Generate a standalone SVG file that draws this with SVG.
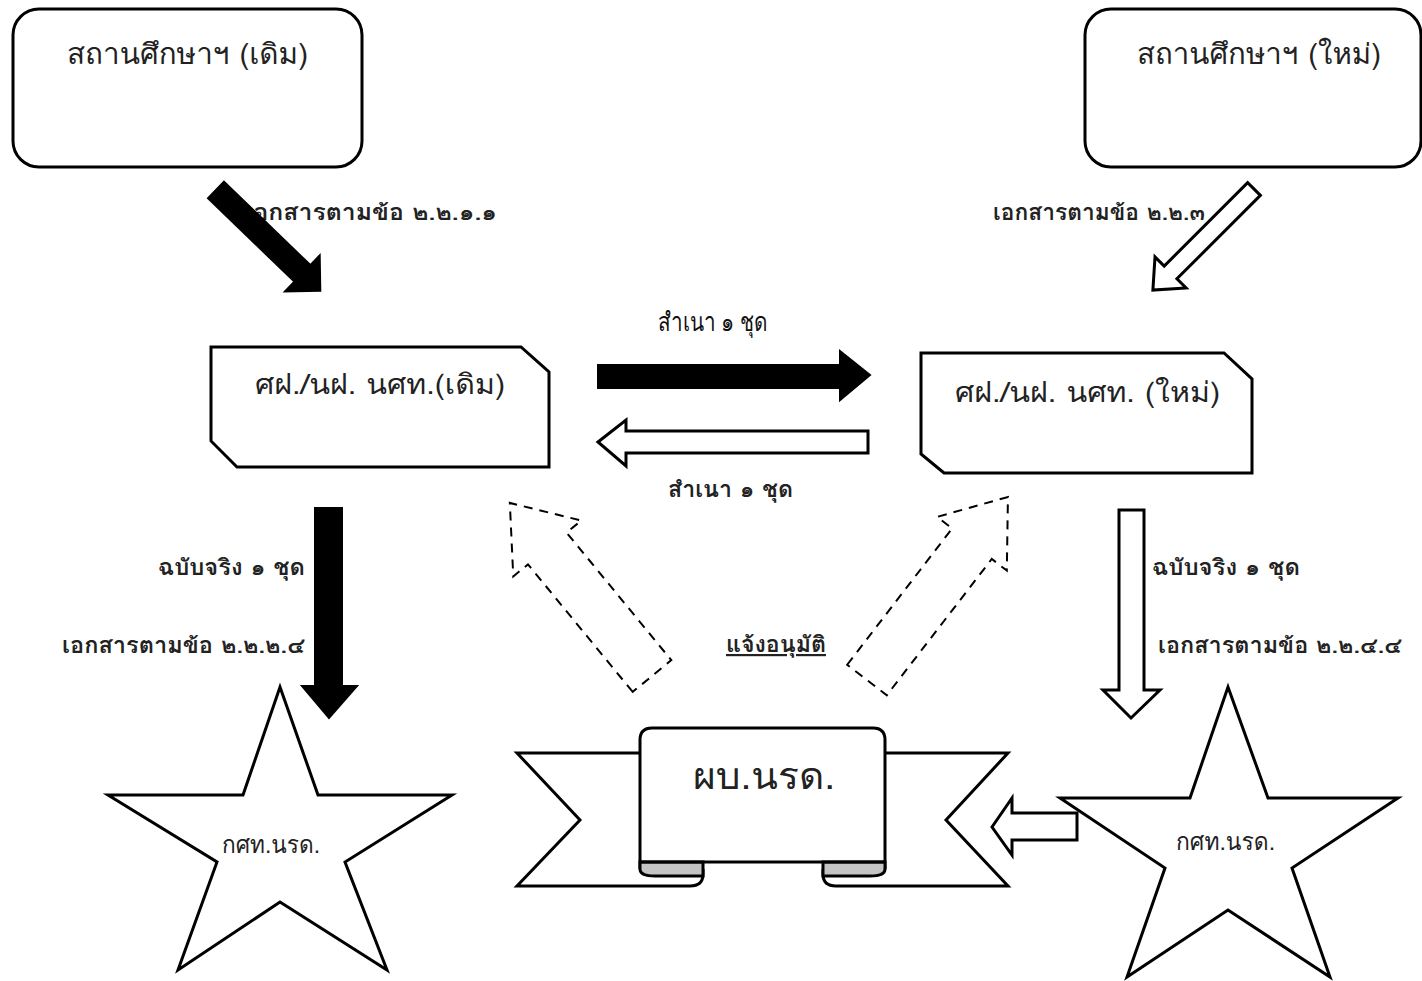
<svg xmlns="http://www.w3.org/2000/svg" width="1422" height="981" viewBox="0 0 1422 981">
<style>
.box{fill:#fff;stroke:#000;stroke-width:3}
.t{font-family:Tahoma,"Leelawadee UI",Loma,Garuda,"Noto Sans Thai","DejaVu Sans",sans-serif;fill:#222}
.lbl{font-family:Tahoma,"Leelawadee UI",Loma,Garuda,"Noto Sans Thai","DejaVu Sans",sans-serif;font-weight:bold;font-size:22px;fill:#222}
.serif{font-family:"TH Sarabun New","Angsana New",Norasi,Kinnari,"Liberation Serif",serif;font-size:26px;fill:#111}
.blk{fill:#000;stroke:#000;stroke-width:2}
.wht{fill:#fff;stroke:#000;stroke-width:3;stroke-linejoin:miter}
.dash{fill:none;stroke:#000;stroke-width:2;stroke-dasharray:9,7}
</style>
<rect width="1422" height="981" fill="#fff"/>
<g id="labels">
<text class="lbl" x="245" y="220" textLength="252" lengthAdjust="spacingAndGlyphs">เอกสารตามข้อ ๒.๒.๑.๑</text>
<text class="lbl" x="993" y="220" textLength="212" lengthAdjust="spacingAndGlyphs">เอกสารตามข้อ ๒.๒.๓</text>
<text class="serif" x="658" y="331" textLength="110" lengthAdjust="spacingAndGlyphs">สำเนา ๑ ชุด</text>
<text class="lbl" x="668" y="497" textLength="125" lengthAdjust="spacingAndGlyphs">สำเนา ๑ ชุด</text>
<text class="lbl" x="158" y="575" textLength="147" lengthAdjust="spacingAndGlyphs">ฉบับจริง ๑ ชุด</text>
<text class="lbl" x="62" y="653" textLength="243" lengthAdjust="spacingAndGlyphs">เอกสารตามข้อ ๒.๒.๒.๔</text>
<text class="lbl" x="1152" y="575" textLength="148" lengthAdjust="spacingAndGlyphs">ฉบับจริง ๑ ชุด</text>
<text class="lbl" x="1158" y="653" textLength="244" lengthAdjust="spacingAndGlyphs">เอกสารตามข้อ ๒.๒.๔.๔</text>
<text class="lbl" x="726" y="652" textLength="100" lengthAdjust="spacingAndGlyphs" text-decoration="underline">แจ้งอนุมัติ</text>
</g>
<g id="connectors">
<g transform="translate(216,190) rotate(44)"><polygon class="blk" points="0,-11.5 120,-11.5 120,-25 145,0 120,25 120,11.5 0,11.5"/></g>
<g transform="translate(1254,189) rotate(135)"><polygon class="wht" points="0,-9 118,-9 118,-22 143,0 118,22 118,9 0,9"/></g>
<polygon class="blk" points="598,365 840,365 840,351 870,375 840,400 840,388 598,388"/>
<polygon class="wht" points="598,442 626,420 626,431 868,431 868,453 626,453 626,466"/>
<polygon class="blk" points="315,508 342,508 342,686 357,686 329,718 302,686 315,686"/>
<polygon class="wht" points="1119,510 1144,510 1144,690 1160,690 1131,718 1103,690 1119,690"/>
<g transform="translate(652,676) rotate(-129.4)"><polygon class="dash" points="0,-25 165,-25 165,-44 224,0 165,44 165,25 0,25"/></g>
<g transform="translate(867,680) rotate(-52.4)"><polygon class="dash" points="0,-25 172,-25 172,-44 231,0 172,44 172,25 0,25"/></g>
<polygon class="wht" points="992,827 1012,798 1012,813 1077,813 1077,840 1012,840 1012,855"/>
</g>
<g id="school-old">
<rect class="box" x="13" y="9" width="349" height="158" rx="26"/>
<text class="t" x="67" y="64" font-size="29" textLength="241" lengthAdjust="spacingAndGlyphs">สถานศึกษาฯ (เดิม)</text>
</g>
<g id="school-new">
<rect class="box" x="1085" y="9" width="336" height="158" rx="26"/>
<text class="t" x="1137" y="64" font-size="29" textLength="244" lengthAdjust="spacingAndGlyphs">สถานศึกษาฯ (ใหม่)</text>
</g>
<g id="office-old">
<polygon class="box" points="211,347 521,347 549,372 549,467 237,467 211,441"/>
<text class="t" x="255" y="394" font-size="28" textLength="250" lengthAdjust="spacingAndGlyphs">ศฝ./นฝ. นศท.(เดิม)</text>
</g>
<g id="office-new">
<polygon class="box" points="921,353 1224,353 1252,379 1252,473 944,473 921,454"/>
<text class="t" x="955" y="402" font-size="28" textLength="265" lengthAdjust="spacingAndGlyphs">ศฝ./นฝ. นศท. (ใหม่)</text>
</g>
<g id="commander">
<path class="box" d="M640,753 H517 L580,820 L517,886 H690 Q703,886 703,874 V862"/>
<path class="box" d="M885,753 H1008 L946,820 L1008,886 H836 Q823,886 823,874 V862"/>
<path class="box" d="M640,869 V740 Q640,728 652,728 H873 Q885,728 885,740 V869"/>
<path d="M703,862 V876 H655 Q640,876 640,869 V862 Z" fill="#c4c4c4" stroke="#000" stroke-width="3"/>
<path d="M823,862 V876 H870 Q885,876 885,869 V862 Z" fill="#c4c4c4" stroke="#000" stroke-width="3"/>
<line x1="640" y1="862" x2="885" y2="862" stroke="#000" stroke-width="3"/>
<text class="t" x="693" y="789" font-size="38" textLength="142" lengthAdjust="spacingAndGlyphs">ผบ.นรด.</text>
</g>
<g id="star-left">
<polygon class="box" points="280,687 318,795 452,795 345,862 387,970 280,902 178,970 217,862 108,795 243,795"/>
<text class="t" x="222" y="853" font-size="25" textLength="98" lengthAdjust="spacingAndGlyphs">กศท.นรด.</text>
</g>
<g id="star-right">
<polygon class="box" points="1228,687 1268,798 1398,798 1292,868 1330,977 1228,910 1127,977 1165,868 1060,798 1190,798"/>
<text class="t" x="1176" y="850" font-size="25" textLength="99" lengthAdjust="spacingAndGlyphs">กศท.นรด.</text>
</g>
</svg>
